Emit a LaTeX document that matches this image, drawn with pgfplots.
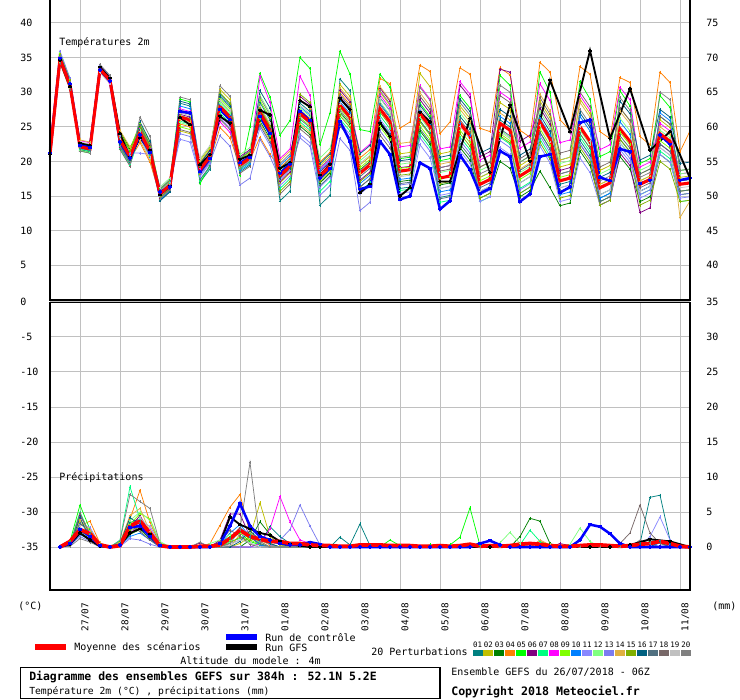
\documentclass[border=0pt]{standalone}
\usepackage{pgfplots}
\pgfplotsset{compat=1.18}
\usepackage{fontspec}
\setmainfont{DejaVu Sans Mono}
\definecolor{c01}{HTML}{008080}
\definecolor{c02}{HTML}{C0C000}
\definecolor{c03}{HTML}{008000}
\definecolor{c04}{HTML}{FF8000}
\definecolor{c05}{HTML}{00FF00}
\definecolor{c06}{HTML}{800080}
\definecolor{c07}{HTML}{00FF80}
\definecolor{c08}{HTML}{FF00FF}
\definecolor{c09}{HTML}{80FF00}
\definecolor{c10}{HTML}{0080FF}
\definecolor{c11}{HTML}{8888FF}
\definecolor{c12}{HTML}{80FF80}
\definecolor{c13}{HTML}{7B7BF0}
\definecolor{c14}{HTML}{E0B040}
\definecolor{c15}{HTML}{80B000}
\definecolor{c16}{HTML}{006080}
\definecolor{c17}{HTML}{507080}
\definecolor{c18}{HTML}{786868}
\definecolor{c19}{HTML}{C0C0C0}
\definecolor{c20}{HTML}{808080}
\definecolor{gridc}{HTML}{C0C0C0}
\newcommand\tf{\fontsize{7.5}{9}\selectfont}
\pgfplotsset{
  table/row sep=\\, table/header=false, table/y index=0, table/x expr=\coordindex,
  panel/.style={scale only axis, width=480pt, xmin=0, xmax=64,
    xtick={3,7,...,63}, grid=major, grid style={draw=gridc, line width=0.75pt},
    major tick length=0pt, axis line style={draw=none},
    tick label style={font=\tf}, clip=true},
  rlab/.style={scale only axis, width=480pt, xmin=0, xmax=64, xtick=\empty,
    axis line style={draw=none}, major tick length=0pt, ytick pos=right,
    yticklabel pos=right, tick label style={font=\tf},
    yticklabel style={anchor=west, inner sep=0pt, xshift=12pt}},
  mem/.style={line width=0.55pt, mark=+, mark size=1.1pt, mark options={line width=0.45pt, solid}},
  meanl/.style={red, line width=2.3pt},
  ctrl/.style={blue, line width=1.9pt, mark=+, mark size=1.2pt},
  gfsl/.style={black, line width=1.4pt, mark=+, mark size=1.2pt},
}
\begin{document}
\begin{tikzpicture}
\useasboundingbox (0,0) rectangle (555pt,525pt);
\fill[white] (0,0) rectangle (555pt,525pt);
% ================= TEMPERATURES =================
\begin{axis}[panel, at={(37.5pt,300pt)}, anchor=south west, height=225pt,
  ymin=0, ymax=43.3, ytick={5,10,...,40}, xticklabels={},
  yticklabels={5,10,15,20,25,30,35,40},
  yticklabel style={anchor=west, inner sep=0pt, xshift=-22.5pt}]
\addplot[mem,c01] table {21.2\\
34.8\\31.0\\21.7\\21.4\\ 33.5\\31.9\\22.3\\19.9\\ 24.7\\21.9\\14.4\\15.7\\ 28.4\\28.0\\17.0\\18.9\\
29.7\\28.2\\18.5\\19.5\\ 28.5\\26.0\\14.3\\15.7\\ 28.4\\27.2\\13.7\\15.1\\ 31.9\\30.2\\16.3\\17.5\\
29.2\\27.3\\16.1\\16.3\\ 25.9\\24.0\\14.8\\15.1\\ 26.5\\24.7\\15.2\\15.9\\ 26.0\\25.0\\16.9\\17.8\\
24.2\\21.8\\16.7\\17.1\\ 23.0\\20.9\\14.7\\15.4\\ 23.2\\21.4\\15.7\\16.4\\ 26.5\\25.4\\17.2\\17.4\\};
\addplot[mem,c02] table {21.5\\
35.1\\31.3\\22.7\\22.4\\ 33.0\\31.4\\23.6\\21.2\\ 23.6\\20.8\\15.8\\17.1\\ 24.4\\24.0\\19.8\\21.7\\
30.4\\28.9\\20.3\\21.3\\ 27.8\\25.3\\16.9\\18.3\\ 28.9\\27.7\\19.4\\20.8\\ 31.1\\29.4\\19.5\\20.7\\
30.0\\28.1\\21.1\\21.3\\ 32.7\\30.8\\21.1\\21.4\\ 28.0\\26.2\\19.2\\19.9\\ 28.5\\27.5\\19.4\\20.3\\
28.7\\26.3\\19.2\\19.6\\ 29.0\\26.9\\18.7\\19.4\\ 27.7\\25.9\\18.2\\18.9\\ 26.0\\24.9\\17.7\\17.9\\};
\addplot[mem,c03] table {20.7\\
34.4\\30.6\\21.6\\21.3\\ 33.3\\31.7\\24.3\\21.9\\ 25.1\\22.3\\15.6\\16.9\\ 27.2\\26.8\\19.2\\21.1\\
27.4\\25.9\\19.9\\20.9\\ 25.8\\23.3\\18.4\\19.8\\ 25.1\\23.9\\16.9\\18.3\\ 27.1\\25.4\\18.8\\20.0\\
25.6\\23.7\\17.1\\17.3\\ 24.4\\22.5\\16.6\\16.9\\ 22.0\\20.2\\14.7\\15.4\\ 20.0\\19.0\\14.9\\15.8\\
18.6\\16.2\\13.6\\14.0\\ 21.5\\19.4\\14.2\\14.9\\ 20.7\\18.9\\14.2\\14.9\\ 21.0\\19.9\\15.2\\15.4\\};
\addplot[mem,c04] table {21.8\\
34.2\\30.4\\22.6\\22.3\\ 33.7\\32.1\\22.7\\20.3\\ 22.7\\19.9\\15.0\\16.3\\ 25.4\\25.0\\18.2\\20.1\\
24.9\\23.4\\19.2\\20.2\\ 23.5\\21.0\\19.1\\20.5\\ 27.4\\26.2\\19.9\\21.3\\ 29.9\\28.2\\20.5\\21.7\\
32.0\\31.2\\24.8\\25.7\\ 33.9\\33.0\\24.0\\25.7\\ 33.5\\32.6\\24.8\\24.3\\ 33.5\\32.5\\24.5\\23.5\\
34.3\\32.9\\26.0\\24.5\\ 33.7\\32.6\\24.3\\23.3\\ 32.1\\31.4\\23.6\\22.4\\ 32.9\\31.4\\21.4\\24.4\\};
\addplot[mem,c05] table {21.3\\
35.3\\31.5\\21.5\\21.2\\ 33.1\\31.5\\23.9\\21.5\\ 25.2\\22.4\\16.1\\17.4\\ 29.0\\28.6\\16.8\\19.5\\
28.7\\27.2\\18.0\\25.0\\ 32.7\\29.3\\23.8\\25.9\\ 35.0\\33.4\\22.4\\27.0\\ 35.9\\32.6\\24.6\\24.3\\
32.6\\30.7\\20.4\\20.6\\ 28.4\\26.5\\20.1\\20.4\\ 29.5\\27.7\\17.7\\18.4\\ 32.4\\31.0\\19.9\\20.8\\
32.9\\30.0\\20.2\\20.6\\ 31.5\\29.0\\20.7\\21.4\\ 30.2\\28.0\\19.7\\20.4\\ 29.5\\27.8\\18.7\\18.9\\};
\addplot[mem,c06] table {20.8\\
34.5\\30.7\\22.3\\22.0\\ 33.8\\32.2\\22.1\\19.7\\ 24.5\\21.7\\14.7\\16.0\\ 26.8\\26.4\\19.6\\21.5\\
26.7\\25.2\\20.7\\21.7\\ 27.4\\24.9\\17.1\\18.5\\ 29.4\\28.2\\18.5\\19.9\\ 30.3\\28.6\\17.3\\18.5\\
30.6\\28.7\\19.1\\19.3\\ 28.9\\27.0\\19.1\\19.4\\ 31.0\\29.2\\20.7\\21.4\\ 33.3\\32.9\\22.9\\23.8\\
27.7\\25.3\\18.7\\19.1\\ 22.5\\20.4\\13.7\\14.4\\ 21.2\\19.4\\12.6\\13.3\\ 22.5\\21.4\\15.7\\15.9\\};
\addplot[mem,c07] table {21.6\\
35.4\\31.6\\21.8\\21.5\\ 33.4\\31.8\\21.9\\19.5\\ 23.7\\20.9\\15.5\\16.8\\ 25.8\\25.4\\17.3\\19.2\\
27.0\\25.5\\18.9\\19.9\\ 26.2\\23.7\\16.1\\17.5\\ 25.7\\24.5\\15.7\\17.1\\ 26.1\\24.4\\15.7\\16.9\\
26.6\\24.7\\15.8\\16.0\\ 23.9\\22.0\\14.1\\14.4\\ 23.5\\21.7\\14.2\\14.9\\ 23.5\\22.5\\16.1\\17.0\\
23.2\\20.8\\15.7\\16.1\\ 23.5\\21.4\\15.2\\15.9\\ 22.7\\20.9\\15.2\\15.9\\ 21.5\\20.4\\14.2\\14.4\\};
\addplot[mem,c08] table {21.1\\
34.6\\30.8\\23.0\\22.7\\ 32.9\\31.3\\23.4\\21.0\\ 24.8\\22.0\\15.1\\16.4\\ 27.6\\27.2\\19.0\\20.9\\
25.7\\24.2\\19.7\\20.7\\ 32.3\\28.5\\20.4\\21.8\\ 32.3\\29.5\\18.9\\20.3\\ 29.3\\27.6\\21.3\\22.5\\
29.6\\27.7\\22.1\\22.3\\ 30.9\\29.0\\21.8\\22.1\\ 31.5\\29.7\\20.2\\20.9\\ 30.0\\29.0\\21.9\\22.8\\
31.2\\28.8\\22.7\\23.1\\ 29.5\\27.4\\21.7\\22.4\\ 30.7\\28.9\\19.2\\19.9\\ 25.5\\24.4\\18.2\\18.4\\};
\addplot[mem,c09] table {20.6\\
35.6\\31.8\\22.5\\22.2\\ 33.6\\32.0\\24.1\\21.7\\ 25.5\\22.7\\15.9\\17.2\\ 25.0\\24.6\\20.2\\22.1\\
29.1\\27.6\\20.4\\21.4\\ 28.8\\26.3\\18.1\\19.5\\ 26.3\\25.1\\17.4\\18.8\\ 27.7\\26.0\\19.1\\20.3\\
25.0\\23.1\\19.0\\19.2\\ 25.1\\23.2\\17.6\\17.9\\ 24.5\\22.7\\17.2\\17.9\\ 24.0\\23.0\\17.4\\18.3\\
24.7\\22.3\\17.7\\18.1\\ 24.0\\21.9\\16.7\\17.4\\ 24.2\\22.4\\17.2\\17.9\\ 23.0\\21.9\\15.7\\15.9\\};
\addplot[mem,c10] table {21.9\\
35.0\\31.2\\21.9\\21.6\\ 33.3\\31.7\\22.6\\20.2\\ 23.4\\20.6\\14.5\\15.8\\ 28.0\\27.6\\18.5\\20.4\\
28.2\\26.7\\18.7\\19.7\\ 26.5\\24.0\\19.4\\20.8\\ 27.9\\26.7\\18.7\\20.1\\ 28.6\\26.9\\16.8\\18.0\\
28.4\\26.5\\17.4\\17.6\\ 27.4\\25.5\\15.6\\15.9\\ 25.5\\23.7\\15.7\\16.4\\ 26.5\\25.5\\15.4\\16.3\\
26.2\\23.8\\15.2\\15.6\\ 26.5\\24.4\\14.7\\15.4\\ 25.7\\23.9\\15.7\\16.4\\ 27.0\\25.9\\17.2\\17.4\\};
\addplot[mem,c11] table {22.2\\
35.2\\31.4\\22.2\\21.9\\ 33.1\\31.5\\23.7\\21.2\\ 21.2\\21.0\\15.7\\17.0\\ 23.2\\22.8\\17.8\\19.7\\
26.3\\24.8\\19.1\\20.1\\ 24.8\\22.3\\16.5\\17.9\\ 23.9\\22.7\\16.3\\17.7\\ 25.6\\23.9\\15.3\\16.5\\
26.1\\24.2\\15.4\\15.6\\ 22.4\\20.5\\15.1\\15.4\\ 21.5\\19.7\\14.2\\14.9\\ 22.0\\21.0\\14.4\\15.3\\
22.2\\19.8\\14.2\\14.6\\ 20.5\\18.4\\13.7\\14.4\\ 21.7\\19.9\\14.7\\15.4\\ 21.0\\19.9\\14.7\\14.9\\};
\addplot[mem,c12] table {21.0\\
35.8\\32.0\\21.6\\21.3\\ 33.5\\31.9\\22.9\\20.5\\ 24.4\\21.6\\16.3\\17.6\\ 25.6\\25.2\\19.4\\21.3\\
28.4\\26.9\\21.0\\22.0\\ 29.5\\27.0\\18.7\\20.1\\ 27.7\\26.5\\20.5\\21.9\\ 26.9\\25.2\\20.1\\21.3\\
28.6\\26.7\\19.6\\19.8\\ 26.4\\24.5\\18.4\\18.7\\ 27.0\\25.2\\18.7\\19.4\\ 24.5\\23.5\\18.4\\19.3\\
27.2\\24.8\\19.7\\20.1\\ 24.5\\22.4\\18.2\\18.9\\ 26.2\\24.4\\18.7\\19.4\\ 24.5\\23.4\\18.2\\18.4\\};
\addplot[mem,c13] table {22.5\\
35.9\\32.0\\22.4\\22.1\\ 33.9\\32.3\\23.5\\21.1\\ 24.0\\21.2\\14.9\\16.2\\ 24.0\\23.6\\18.0\\19.9\\
23.7\\22.2\\16.6\\17.6\\ 23.2\\20.7\\17.4\\18.8\\ 23.4\\22.2\\15.1\\16.5\\ 23.3\\21.6\\12.9\\14.1\\
24.4\\22.5\\16.6\\16.8\\ 23.4\\21.5\\16.1\\16.4\\ 23.0\\21.2\\15.2\\15.9\\ 23.0\\22.0\\15.9\\16.8\\
23.7\\21.3\\16.2\\16.6\\ 22.5\\20.4\\15.2\\15.9\\ 22.2\\20.4\\15.2\\15.9\\ 22.0\\20.9\\15.2\\15.4\\};
\addplot[mem,c14] table {21.4\\
34.3\\30.5\\23.1\\22.8\\ 33.2\\31.6\\24.5\\22.1\\ 23.0\\20.2\\15.4\\16.7\\ 26.1\\25.7\\20.0\\21.9\\
27.5\\26.0\\20.1\\21.1\\ 25.5\\23.0\\20.1\\21.5\\ 25.4\\24.2\\17.9\\19.3\\ 30.6\\28.9\\18.3\\19.5\\
30.8\\28.9\\22.6\\22.8\\ 29.9\\28.0\\19.6\\19.9\\ 27.5\\25.7\\17.7\\18.4\\ 27.0\\26.0\\18.9\\19.8\\
29.7\\27.3\\20.2\\20.6\\ 28.5\\26.4\\16.7\\17.4\\ 27.2\\25.4\\17.2\\17.9\\ 25.0\\23.9\\11.9\\14.3\\};
\addplot[mem,c15] table {20.9\\
35.5\\31.7\\22.0\\21.7\\ 33.6\\32.0\\24.0\\21.6\\ 24.9\\22.1\\14.8\\16.1\\ 26.6\\26.2\\18.6\\20.5\\
29.9\\28.4\\19.3\\20.3\\ 27.6\\25.1\\15.7\\17.1\\ 29.7\\28.5\\17.1\\18.5\\ 26.6\\24.9\\17.1\\18.3\\
27.1\\25.2\\18.0\\18.2\\ 25.7\\23.8\\16.8\\17.1\\ 24.0\\22.2\\14.7\\15.4\\ 23.7\\22.7\\15.4\\16.3\\
22.7\\20.3\\14.7\\15.1\\ 22.0\\19.9\\13.7\\14.4\\ 23.2\\21.4\\13.7\\14.4\\ 20.0\\18.9\\14.2\\14.4\\};
\addplot[mem,c16] table {21.7\\
34.6\\30.8\\22.5\\22.2\\ 33.0\\31.4\\22.5\\20.1\\ 25.7\\22.9\\14.3\\15.6\\ 28.7\\28.3\\19.7\\21.6\\
29.4\\27.9\\19.8\\20.8\\ 30.2\\27.7\\17.6\\19.0\\ 27.2\\26.0\\19.7\\21.1\\ 29.0\\27.3\\21.1\\22.3\\
25.8\\23.9\\20.1\\20.3\\ 28.1\\26.2\\20.6\\20.9\\ 29.0\\27.2\\21.2\\21.9\\ 27.5\\26.5\\20.9\\21.8\\
26.7\\24.3\\18.2\\18.6\\ 27.0\\24.9\\17.7\\18.4\\ 28.7\\26.9\\20.2\\20.9\\ 27.5\\26.4\\19.7\\19.9\\};
\addplot[mem,c17] table {20.7\\
35.1\\31.3\\21.9\\21.6\\ 33.7\\32.1\\23.3\\20.9\\ 23.8\\21.0\\16.0\\17.3\\ 27.4\\27.0\\17.4\\19.3\\
27.7\\26.2\\20.5\\21.5\\ 25.2\\22.7\\18.9\\20.3\\ 26.1\\24.9\\16.5\\17.9\\ 29.6\\27.9\\17.8\\19.0\\
28.2\\26.3\\16.8\\17.0\\ 24.7\\22.8\\14.6\\14.9\\ 22.5\\20.7\\16.2\\16.9\\ 24.7\\23.7\\18.7\\19.6\\
24.2\\21.8\\15.7\\16.1\\ 24.0\\21.9\\14.2\\14.9\\ 23.7\\21.9\\18.2\\18.9\\ 22.5\\21.4\\15.7\\15.9\\};
\addplot[mem,c18] table {21.3\\
34.2\\30.4\\22.1\\21.8\\ 33.4\\31.8\\21.7\\19.3\\ 25.2\\22.4\\15.3\\16.6\\ 24.6\\24.2\\19.3\\21.2\\
26.1\\24.6\\18.3\\19.3\\ 26.8\\24.3\\15.3\\16.7\\ 24.7\\23.5\\18.2\\19.6\\ 25.1\\23.4\\16.3\\17.5\\
23.8\\21.9\\18.6\\18.8\\ 29.4\\27.5\\18.6\\18.9\\ 26.0\\24.2\\19.2\\19.9\\ 29.5\\28.5\\20.4\\21.3\\
29.2\\26.8\\21.2\\21.6\\ 30.0\\27.9\\19.2\\19.9\\ 27.7\\25.9\\16.2\\16.9\\ 26.5\\25.4\\17.2\\17.4\\};
\addplot[mem,c19] table {20.6\\
34.9\\31.1\\22.8\\22.5\\ 32.8\\31.2\\23.1\\20.7\\ 23.3\\20.5\\16.2\\17.5\\ 27.0\\26.6\\20.4\\22.3\\
28.8\\27.3\\20.0\\21.0\\ 28.0\\25.5\\18.3\\19.7\\ 28.1\\26.9\\17.7\\19.1\\ 28.3\\26.6\\19.7\\20.9\\
29.1\\27.2\\17.8\\18.0\\ 27.7\\25.8\\16.1\\16.4\\ 25.0\\23.2\\15.7\\16.4\\ 24.3\\23.3\\16.9\\17.8\\
25.2\\22.8\\16.2\\16.6\\ 25.0\\22.9\\15.2\\15.9\\ 22.7\\20.9\\15.7\\16.4\\ 22.0\\20.9\\16.2\\16.4\\};
\addplot[mem,c20] table {22.0\\
35.2\\31.4\\21.5\\21.2\\ 34.0\\32.4\\22.2\\19.8\\ 26.4\\23.6\\14.6\\15.9\\ 29.3\\28.9\\18.3\\20.2\\
30.9\\29.4\\19.0\\20.0\\ 29.2\\26.7\\19.7\\21.1\\ 26.6\\25.4\\19.1\\20.5\\ 27.4\\25.7\\18.7\\19.9\\
30.2\\28.3\\20.6\\20.8\\ 30.7\\28.8\\19.1\\19.4\\ 28.5\\26.7\\18.2\\18.9\\ 31.0\\30.0\\19.9\\20.8\\
28.2\\25.8\\18.2\\18.6\\ 27.5\\25.4\\17.2\\17.9\\ 29.2\\27.4\\17.7\\18.4\\ 30.0\\28.9\\18.7\\18.9\\};
% GFS
\addplot[gfsl] coordinates {(0,21.0)(1,34.6)(2,30.8)(3,22.6)(4,22.3)(5,33.6)(6,32.0)(7,24.0)(8,20.6)
(9,23.4)(10,21.6)(11,15.2)(12,16.4)(13,26.3)(14,25.3)(15,19.5)(16,21.0)(17,26.5)(18,25.5)(19,20.3)
(20,20.9)(21,27.4)(22,26.7)(23,19.0)(24,19.8)(25,28.8)(26,27.9)(27,18.0)(28,19.6)(29,29.1)(30,27.5)
(31,15.5)(32,16.7)(33,25.5)(34,23.6)(35,15.0)(36,16.2)(37,27.1)(38,25.7)(39,17.1)(40,17.1)
(42,26.2)(44,18.4)(46,28.1)(48,20.0)(50,31.7)(52,24.3)(54,36.0)(56,23.3)(58,30.5)(60,21.6)(62,24.3)(64,17.6)};
% control
\addplot[ctrl] table {21.2\\
34.9\\31.2\\22.3\\22.0\\ 33.2\\31.6\\22.8\\20.5\\ 23.8\\21.3\\15.6\\16.3\\ 27.2\\27.0\\18.5\\20.4\\
27.5\\26.0\\19.8\\20.6\\ 26.5\\24.0\\18.3\\19.6\\ 27.2\\25.9\\17.6\\19.0\\ 25.8\\22.9\\16.0\\16.4\\
22.9\\21.0\\14.5\\15.0\\ 19.8\\19.0\\13.1\\14.3\\ 20.9\\18.8\\15.4\\16.1\\ 21.5\\20.7\\14.2\\15.3\\
20.7\\21.0\\15.5\\16.3\\ 25.6\\26.0\\17.7\\17.2\\ 21.8\\21.4\\16.8\\17.3\\ 23.8\\22.5\\17.3\\17.6\\};
% mean
\addplot[meanl] table {21.0\\
34.8\\31.0\\22.1\\21.8\\ 33.3\\31.7\\23.1\\20.7\\ 24.2\\21.4\\15.3\\16.6\\ 26.4\\26.0\\18.8\\20.7\\
27.9\\26.4\\19.5\\20.5\\ 27.0\\24.5\\17.9\\19.3\\ 26.9\\25.7\\17.9\\19.3\\ 28.1\\26.4\\18.3\\19.5\\
27.6\\25.7\\18.6\\18.8\\ 26.9\\25.0\\17.6\\17.9\\ 25.5\\23.7\\16.7\\17.4\\ 25.5\\24.5\\17.9\\18.8\\
25.7\\23.3\\17.2\\17.6\\ 25.0\\22.9\\16.2\\16.9\\ 24.7\\22.9\\16.7\\17.4\\ 24.0\\22.9\\16.7\\16.9\\};
\end{axis}
\begin{axis}[rlab, at={(37.5pt,300pt)}, anchor=south west, height=225pt,
  ymin=0, ymax=43.3, ytick={5,10,...,40}, yticklabels={40,45,50,55,60,65,70,75}]
\end{axis}
% ================= PRECIPITATIONS =================
\begin{axis}[panel, at={(37.5pt,82.5pt)}, anchor=south west, height=216pt,
  ymin=-6.14, ymax=35, ytick={0,5,...,35},
  yticklabels={-35,-30,-25,-20,-15,-10,-5,0},
  yticklabel style={anchor=west, inner sep=0pt, xshift=-22.5pt},
  xticklabels={27/07,28/07,29/07,30/07,31/07,01/08,02/08,03/08,04/08,05/08,06/08,07/08,08/08,09/08,10/08,11/08},
  xticklabel style={font=\fontsize{7}{8}\selectfont, inner sep=0pt, xshift=0.8pt, yshift=-9.5pt, rotate=90, anchor=north east}]
\addplot[mem,c01] table[x expr=\coordindex+1] {
0\\0.3\\2.8\\1.5\\0.2\\0\\0.5\\3.5\\ 4.0\\2.0\\0.3\\0\\0\\0\\0\\0\\
0\\0\\0\\0\\0.5\\2.9\\1.5\\0.5\\ 0\\0\\0\\0\\1.4\\0.3\\3.3\\0.2\\
0\\0\\0\\0\\0\\0\\0\\0\\ 0\\0\\0\\0\\0\\0\\0\\0\\
0\\0\\0\\0\\0\\0\\0\\0\\ 0\\0\\0.5\\7.1\\7.4\\1.0\\0\\0\\};
\addplot[mem,c02] table[x expr=\coordindex+1] {
0\\0.5\\3.5\\2.0\\0.3\\0\\0.3\\2.5\\ 3.0\\1.5\\0.2\\0\\0\\0\\0\\0\\
0\\0\\0.5\\1.5\\6.3\\1.5\\0.3\\0\\ 0\\0\\0\\0\\0\\0\\0\\0\\
0\\0\\0\\0\\0\\0\\0\\0\\ 0\\0\\0\\0\\0\\0\\0\\0\\
0.8\\0.3\\0\\0\\0\\0\\0\\0\\ 0\\0\\0\\0\\0\\0\\0\\0\\};
\addplot[mem,c03] table[x expr=\coordindex+1] {
0\\0.2\\2.0\\1.2\\0\\0\\0.2\\1.8\\ 2.5\\1.2\\0\\0\\0\\0\\0\\0\\
0\\0\\0\\1.0\\3.6\\1.8\\0.5\\0\\ 0\\0\\0\\0\\0\\0\\0\\0\\
0\\0\\0\\0\\0\\0\\0\\0\\ 0\\0\\0\\0\\0\\0\\1.5\\4.1\\
3.7\\0.5\\0\\0\\0\\0\\0\\0\\ 0\\0\\0\\0.8\\0.6\\0\\0\\0\\};
\addplot[mem,c04] table[x expr=\coordindex+1] {
0\\0.6\\3.0\\3.7\\0.5\\0\\0.6\\4.0\\ 8.1\\3.5\\0.4\\0\\0\\0\\0\\0.5\\
3.1\\5.7\\7.5\\2.0\\1.0\\0.3\\0\\0\\ 0\\0\\0\\0\\0\\0\\0\\0\\
0\\0\\0\\0\\0\\0\\0\\0\\ 0\\0\\0\\0\\0\\0\\0\\0\\
0\\0\\0\\0\\0\\0\\0\\0\\ 0\\0\\0\\0\\0\\0\\0\\0\\};
\addplot[mem,c05] table[x expr=\coordindex+1] {
0\\0.8\\6.0\\2.5\\0.2\\0\\0.8\\3.0\\ 3.5\\2.5\\0.3\\0\\0\\0\\0\\0\\
0.5\\1.5\\2.0\\0.8\\0.3\\0\\0\\0\\ 0\\0\\0\\0\\0\\0\\0\\0\\
0\\1.0\\0.2\\0\\0\\0.3\\0\\0.3\\ 1.4\\5.6\\0.2\\0\\0\\0\\0\\0\\
0\\0\\0\\0\\0\\0\\0\\0\\ 0\\0\\0\\0\\0\\0\\0\\0\\};
\addplot[mem,c06] table[x expr=\coordindex+1] {
0\\0.4\\4.5\\2.0\\0.3\\0\\0.4\\2.8\\ 4.5\\2.0\\0.2\\0\\0\\0\\0.6\\0\\
1.0\\4.7\\4.7\\1.5\\0.3\\0\\0\\0\\ 0\\0\\0\\0\\0\\0\\0\\0\\
0\\0\\0\\0\\0\\0\\0\\0\\ 0\\0\\0\\0\\0\\0\\0\\0\\
0\\0\\0.5\\0.2\\0\\0\\0\\0\\ 0\\0\\0\\0\\0\\0\\0\\0\\};
\addplot[mem,c07] table[x expr=\coordindex+1] {
0\\0.5\\5.0\\1.8\\0.1\\0\\1.0\\8.6\\ 4.0\\1.5\\0.1\\0\\0\\0\\0\\0\\
0\\0.8\\1.2\\2.0\\0.5\\0\\0\\0\\ 0\\0\\0\\0\\0\\0\\0\\0\\
0\\0\\0\\0\\0\\0\\0\\0\\ 0\\0\\0\\0\\0\\0\\0.3\\2.4\\
0.8\\0\\0\\0\\0\\0\\0\\0\\ 0\\0\\0\\0\\0\\0\\0\\0\\};
\addplot[mem,c08] table[x expr=\coordindex+1] {
0\\0.3\\2.5\\2.2\\0.4\\0\\0.3\\2.0\\ 3.0\\2.5\\0.5\\0\\0\\0\\0\\0\\
0\\0\\0\\0\\0.5\\2.6\\7.2\\3.6\\ 1.0\\0.5\\0\\0\\0\\0\\0\\0\\
0\\0\\0\\0\\0\\0\\0\\0\\ 0\\0\\0\\0\\0\\0\\0\\0\\
0\\0\\0\\0\\0\\0\\0\\0\\ 0\\0\\0\\0\\0\\0\\0\\0\\};
\addplot[mem,c09] table[x expr=\coordindex+1] {
0\\0.6\\4.0\\1.6\\0\\0\\0.5\\3.2\\ 4.8\\4.0\\0.6\\0\\0\\0\\0\\0\\
0\\1.0\\2.5\\1.0\\0.4\\0\\0\\0\\ 0\\0\\0\\0\\0\\0\\0\\0\\
0\\0\\0\\0\\0\\0\\0\\0\\ 0\\0\\0\\0\\0\\0\\0\\0\\
0\\0\\0\\0\\0\\0\\0\\0\\ 0\\0\\0\\0\\0\\0\\0\\0\\};
\addplot[mem,c10] table[x expr=\coordindex+1] {
0\\0.2\\1.8\\1.0\\0.2\\0\\0.2\\1.5\\ 2.0\\1.0\\0\\0\\0\\0\\0\\0\\
0.4\\2.0\\3.2\\1.5\\0.3\\0\\0\\0\\ 0\\0\\0\\0\\0\\0\\0\\0\\
0\\0\\0\\0\\0\\0\\0\\0\\ 0\\0\\0\\0\\0\\0\\0\\0\\
0\\0\\0\\0\\0\\0\\0\\0\\ 0\\0\\0\\0\\0.6\\0.4\\0\\0\\};
\addplot[mem,c11] table[x expr=\coordindex+1] {
0\\0.4\\3.2\\2.8\\0.3\\0\\0.4\\2.2\\ 3.5\\3.0\\0.4\\0\\0\\0\\0\\0\\
0\\0.5\\1.0\\2.8\\1.2\\0.4\\0\\0\\ 0\\0\\0\\0\\0\\0\\0\\0\\
0\\0\\0\\0\\0\\0\\0\\0\\ 0\\0\\0\\0\\0\\0\\0\\0\\
0\\0\\0\\0\\0\\0\\0\\0\\ 0\\0\\0\\1.5\\4.3\\1.0\\0\\0\\};
\addplot[mem,c12] table[x expr=\coordindex+1] {
0\\0.7\\2.2\\1.4\\0\\0\\0.6\\3.8\\ 5.0\\3.8\\0.8\\0\\0\\0\\0\\0.5\\
1.0\\1.8\\1.5\\0.6\\0\\0\\0\\0\\ 0\\0\\0\\0\\0\\0\\0\\0\\
0\\0\\0\\0\\0\\0\\0\\0\\ 0\\0\\0\\0\\0.6\\2.1\\0.5\\0\\
0\\0\\0\\0.4\\2.7\\0.8\\0\\0\\ 0\\0\\0\\0\\0\\0\\0\\0\\};
\addplot[mem,c13] table[x expr=\coordindex+1] {
0\\0.3\\1.5\\0.8\\0.1\\0\\0.1\\1.2\\ 1.0\\0.4\\0\\0\\0\\0\\0\\0\\
0\\0\\0\\0\\0\\0\\1.0\\2.5\\ 6.0\\3.0\\0.3\\0\\0\\0\\0\\0\\
0\\0\\0\\0\\0\\0\\0\\0\\ 0\\0\\0\\0\\0\\0\\0\\0\\
0\\0\\0\\0\\0\\0\\0\\0\\ 0\\0\\0\\0\\0\\0\\0\\0\\};
\addplot[mem,c14] table[x expr=\coordindex+1] {
0\\0.5\\3.8\\2.4\\0.6\\0\\0.7\\4.5\\ 5.5\\2.2\\0.3\\0\\0\\0\\0\\0\\
0\\0\\1.8\\2.2\\0.8\\0\\0\\0\\ 0\\0\\0\\0\\0\\0\\0\\0\\
0\\0\\0\\0\\0\\0\\0\\0\\ 0\\0\\0\\0\\0\\0\\0\\0\\
1.0\\0.3\\0\\0\\0\\0\\0\\0\\ 0\\0\\0\\0\\0\\0\\0\\0\\};
\addplot[mem,c15] table[x expr=\coordindex+1] {
0\\0.4\\2.6\\1.9\\0.2\\0\\0.3\\2.4\\ 2.8\\2.0\\0.2\\0\\0\\0\\0\\0\\
0\\0.6\\1.4\\0.9\\1.6\\0.5\\0\\0\\ 0\\0\\0\\0\\0\\0\\0\\0\\
0\\0\\0\\0\\0\\0\\0\\0\\ 0\\0\\0\\0\\0\\0\\0\\0\\
0\\0\\0\\0\\0\\0\\0\\0\\ 0\\0\\0\\0\\0\\0\\0\\0\\};
\addplot[mem,c16] table[x expr=\coordindex+1] {
0\\0.2\\4.2\\1.1\\0\\0\\0.5\\4.2\\ 3.2\\1.8\\0\\0\\0\\0\\0\\0\\
0\\0\\0.8\\2.3\\1.0\\0.5\\0\\0\\ 0\\0\\0\\0\\0\\0\\0\\0\\
0\\0\\0\\0\\0\\0\\0\\0\\ 0\\0\\0\\0\\0\\0\\0\\0\\
0\\0\\0\\0\\0\\0\\0\\0\\ 0\\0\\0\\0\\0.8\\0.5\\0\\0\\};
\addplot[mem,c17] table[x expr=\coordindex+1] {
0\\0.6\\3.4\\2.0\\0.3\\0\\0.2\\2.6\\ 3.6\\1.6\\0.1\\0\\0\\0\\0\\0\\
0\\1.2\\2.8\\1.4\\0.5\\0\\0\\0\\ 0\\0\\0\\0\\0\\0\\0\\0\\
0\\0\\0\\0\\0\\0\\0\\0\\ 0\\0\\0\\0\\0\\0\\0\\0\\
0\\0\\0\\0\\0\\0\\0\\0\\ 0\\0\\0\\0.6\\0.9\\0\\0\\0\\};
\addplot[mem,c18] table[x expr=\coordindex+1] {
0\\0.3\\4.8\\1.7\\0.2\\0\\0.4\\3.0\\ 2.2\\1.0\\0\\0\\0\\0\\0\\0\\
0.8\\2.4\\1.6\\0.4\\0\\0\\0\\0\\ 0\\0\\0\\0\\0\\0\\0\\0\\
0\\0\\0\\0\\0\\0\\0\\0\\ 0\\0\\0\\0\\0\\0\\0\\0\\
0\\0\\0\\0\\0\\0\\0\\0\\ 0.5\\2.0\\6.0\\2.0\\0.5\\0\\0\\0\\};
\addplot[mem,c19] table[x expr=\coordindex+1] {
0\\0.5\\2.9\\1.3\\0.1\\0\\0.3\\2.0\\ 4.2\\2.8\\0.3\\0\\0\\0\\0\\0\\
0\\0.3\\1.0\\0.6\\0\\0\\0\\0\\ 0\\0\\0\\0\\0\\0\\0\\0\\
0\\0\\0\\0\\0\\0\\0\\0\\ 0\\0\\0\\0\\0\\0\\0\\0\\
0\\0\\0\\0\\0\\0\\0\\0\\ 0\\0\\0\\0\\0\\0\\0\\0\\};
\addplot[mem,c20] table[x expr=\coordindex+1] {
0\\0.1\\1.2\\0.7\\0\\0\\0.9\\7.5\\ 6.5\\5.5\\0.5\\0\\0\\0\\0.7\\0\\
0\\0.5\\2.5\\12.1\\0.8\\0\\0\\0\\ 0\\0\\0\\0\\0\\0\\0\\0\\
0\\0\\0\\0\\0\\0\\0\\0\\ 0\\0\\0\\0\\0\\0\\0\\0\\
0\\0\\0\\0\\0\\0\\0\\0\\ 0\\0\\1.0\\0.5\\0\\0\\0\\0\\};
% GFS
\addplot[gfsl] coordinates {(1,0)(2,0.4)(3,2.0)(4,1.0)(5,0.1)(6,0)(7,0.3)(8,2.0)(9,2.6)(10,1.8)
(11,0.2)(12,0)(13,0)(14,0)(15,0)(16,0)(17,0.5)(18,4.3)(19,3.2)(20,2.6)(21,2.0)(22,1.7)(23,0.8)
(24,0.4)(25,0.2)(26,0)(27,0)(28,0)(29,0)(30,0)(31,0)(32,0)(33,0)(34,0)(35,0)(36,0)(37,0)(38,0)
(39,0)(40,0)(42,0)(44,0)(46,0)(48,0)(50,0)(52,0)(54,0)(56,0)(58,0.3)(60,1.1)(62,0.8)(64,0)};
% control
\addplot[ctrl] table[x expr=\coordindex+1] {
0\\0.5\\2.5\\1.5\\0.2\\0\\0.3\\2.8\\ 3.0\\1.5\\0.2\\0\\0\\0\\0\\0\\
0.5\\3.0\\6.2\\3.0\\1.5\\1.0\\0.5\\0.3\\ 0.3\\0.7\\0.4\\0\\0\\0\\0\\0\\
0\\0\\0\\0\\0\\0\\0\\0\\ 0\\0\\0.5\\0.9\\0.3\\0\\0\\0\\
0\\0\\0\\0\\1.0\\3.2\\2.9\\1.9\\ 0.5\\0\\0\\0\\0\\0\\0\\0\\};
% mean
\addplot[red, line width=2.8pt] table[x expr=\coordindex+1] {
0.0\\0.8\\2.5\\1.9\\0.3\\0.0\\0.2\\3.0\\ 3.7\\2.0\\0.2\\0.0\\0.0\\0.0\\0.1\\0.1\\
0.3\\1.2\\2.4\\1.5\\1.1\\0.8\\0.8\\0.5\\ 0.5\\0.3\\0.2\\0.2\\0.1\\0.1\\0.3\\0.3\\
0.3\\0.2\\0.2\\0.2\\0.1\\0.1\\0.2\\0.1\\ 0.2\\0.4\\0.1\\0.2\\0.1\\0.2\\0.4\\0.5\\
0.4\\0.2\\0.1\\0.1\\0.2\\0.3\\0.3\\0.2\\ 0.1\\0.2\\0.4\\0.5\\0.8\\0.5\\0.1\\0.0\\};
\end{axis}
\begin{axis}[rlab, at={(37.5pt,82.5pt)}, anchor=south west, height=216pt,
  ymin=-6.14, ymax=35, ytick={0,5,...,35}, yticklabels={0,5,10,15,20,25,30,35}]
\end{axis}
% ================= FRAME, LEGEND, TITLES =================
\begin{scope}[x=0.75pt, y=-0.75pt, yshift=525pt]
\tikzset{lab/.style={anchor=west, inner sep=0pt, font=\tf}}
\draw[line width=1.1pt] (50,0)--(50,300)--(690,300)--(690,0);
\draw[line width=1.1pt] (50,302.6)--(50,590)--(690,590)--(690,302.6)--cycle;
\node[lab] at (59,43) {Températures 2m};
\node[lab] at (59,477.5) {Précipitations};
\node[lab] at (18,606.5) {(°C)};
\node[lab] at (712,606.5) {(mm)};
\draw[red, line width=3.8pt] (35,647)--(66,647);
\node[lab] at (74,648) {Moyenne des scénarios};
\draw[blue, line width=3.8pt] (226,637)--(257,637);
\node[lab] at (265,637.5) {Run de contrôle};
\draw[black, line width=3.8pt] (226,647)--(257,647);
\node[lab] at (265,648) {Run GFS};
\node[lab] at (180,661) {Altitude du modele : 4m};
\node[lab] at (371,652) {20 Perturbations};
\foreach \lab [count=\k from 0] in {01,02,03,04,05,06,07,08,09,10,11,12,13,14,15,16,17,18,19,20} {
  \fill[fill=c\lab] ({472.5+\k*10.97},650) rectangle ++(10,6.5);
  \node[inner sep=0pt, font=\fontsize{5.6}{6}\selectfont] at ({477.5+\k*10.97},644.5) {\lab};
}
\draw[line width=0.8pt] (20.5,667.5) rectangle (440,698.5);
\node[lab, font=\fontsize{8.6}{10}\selectfont\bfseries] at (29,677.5) {Diagramme des ensembles GEFS sur 384h : 52.1N 5.2E};
\node[lab, font=\fontsize{7.3}{9}\selectfont] at (29,692) {Température 2m (°C) , précipitations (mm)};
\node[lab] at (451,672.5) {Ensemble GEFS du 26/07/2018 - 06Z};
\node[lab, font=\fontsize{8.7}{10}\selectfont\bfseries] at (451,692) {Copyright 2018 Meteociel.fr};
\end{scope}
\end{tikzpicture}
\end{document}
